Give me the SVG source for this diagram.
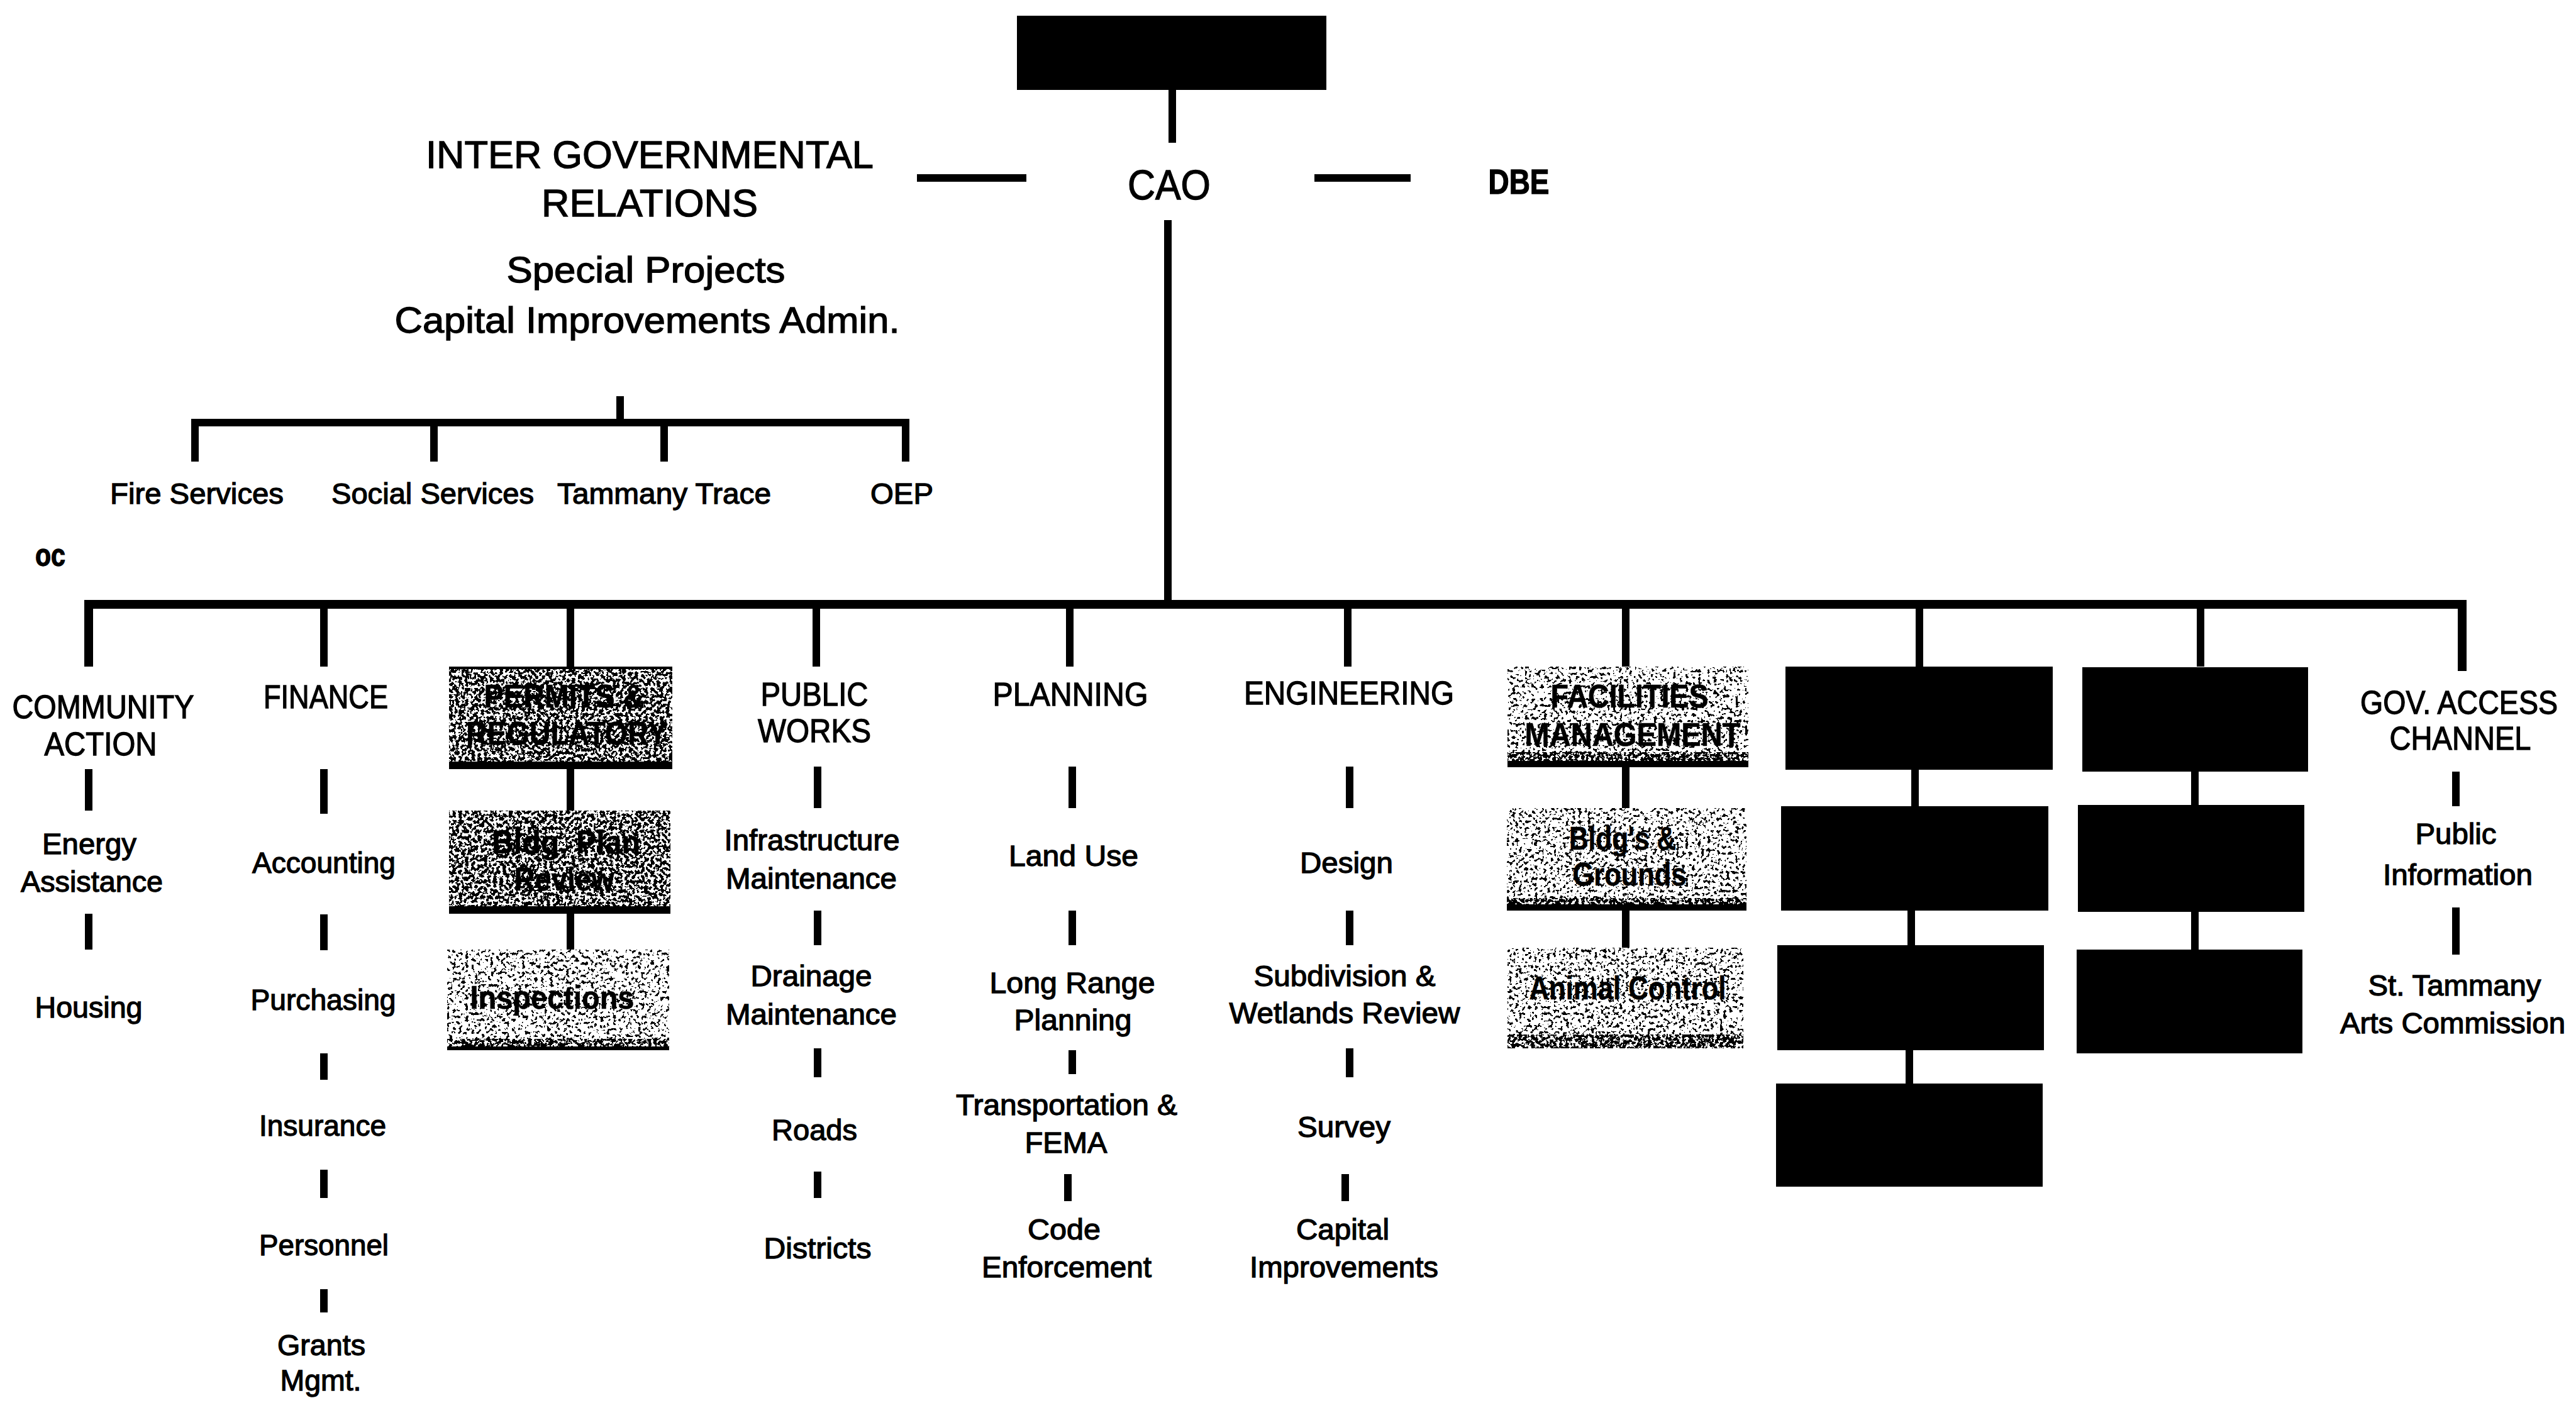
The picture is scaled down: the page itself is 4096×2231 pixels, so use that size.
<svg xmlns="http://www.w3.org/2000/svg" width="4096" height="2231" viewBox="0 0 4096 2231">
<defs>
<style>
.t{font-family:"Liberation Sans",Arial,sans-serif;fill:#000;text-anchor:middle;stroke:#000;stroke-width:1.3}
.h{font-size:52px}
.s{font-size:47px}
.b{font-size:52px;font-weight:bold;stroke-width:0.6}
.ln{stroke:#000;fill:none;stroke-width:12;stroke-linecap:butt}
.bar{stroke:#000;fill:none;stroke-width:14}
.blk{fill:#000}
</style>
<filter id="spk1" x="0" y="0" width="1" height="1">
<feTurbulence type="fractalNoise" baseFrequency="0.2" numOctaves="2" seed="5" result="n"/>
<feColorMatrix in="n" type="matrix" values="0 0 0 0 0  0 0 0 0 0  0 0 0 0 0  1 0 0 0 0" result="a"/>
<feComponentTransfer in="a" result="th"><feFuncA type="discrete" tableValues="0 0 0 0 0 0 0 0 0 0 1 1 1 1 1 1 1 1 1 1"/></feComponentTransfer>
<feComposite in="th" in2="SourceAlpha" operator="in"/>
</filter>
<filter id="spk2" x="0" y="0" width="1" height="1">
<feTurbulence type="fractalNoise" baseFrequency="0.2" numOctaves="2" seed="11" result="n"/>
<feColorMatrix in="n" type="matrix" values="0 0 0 0 0  0 0 0 0 0  0 0 0 0 0  1 0 0 0 0" result="a"/>
<feComponentTransfer in="a" result="th"><feFuncA type="discrete" tableValues="0 0 0 0 0 0 0 0 0 0 0 0 1 1 1 1 1 1 1 1"/></feComponentTransfer>
<feComposite in="th" in2="SourceAlpha" operator="in"/>
</filter>
</defs>
<rect width="4096" height="2231" fill="#fff"/>

<g id="connectors">
<path class="ln" d="M1864 143V227"/>
<path class="ln" d="M1458 283H1632M2090 283H2243" stroke-width="11"/>
<path class="ln" d="M1857 350V961"/>
<path class="bar" d="M141 1060V961H3915V1067"/>
<path class="ln" d="M515 961V1060M907 961V1060M1298 961V1060M1701 961V1060M2143 961V1060M2585 961V1060M3052 961V1060M3499 961V1060"/>
<path class="ln" d="M986 630V672M310 734V672H1440V734M690 672V734M1056 672V734" stroke-width="11"/>
<path class="ln" d="M141 1223V1289M141 1453V1510"/>
<path class="ln" d="M515 1223V1294M515 1454V1511M515 1675V1717M515 1860V1905M515 2050V2087"/>
<path class="ln" d="M907 1223V1289M907 1453V1510"/>
<path class="ln" d="M1300 1219V1285M1300 1448V1503M1300 1667V1713M1300 1863V1905"/>
<path class="ln" d="M1705 1219V1285M1705 1448V1503M1705 1670V1708M1698 1867V1910"/>
<path class="ln" d="M2146 1219V1285M2146 1448V1503M2146 1667V1713M2139 1867V1910"/>
<path class="ln" d="M2585 1220V1285M2585 1448V1507"/>
<path class="ln" d="M3045 1224V1282M3039 1448V1503M3036 1670V1723"/>
<path class="ln" d="M3490 1227V1280M3490 1450V1510"/>
<path class="ln" d="M3905 1227V1282M3905 1443V1518"/>
</g>

<g id="top-box"><rect class="blk" x="1617" y="25" width="492" height="118"/></g>
<g id="cao"><text class="t" x="1859" y="317" font-size="67" textLength="132" lengthAdjust="spacingAndGlyphs">CAO</text></g>
<g id="dbe"><text class="t" x="2415" y="308" font-size="55" font-weight="bold" stroke-width="0.6" textLength="97" lengthAdjust="spacingAndGlyphs">DBE</text></g>
<g id="intergov">
<text class="t" x="1033" y="267" font-size="62" textLength="712" lengthAdjust="spacingAndGlyphs">INTER GOVERNMENTAL</text>
<text class="t" x="1033" y="344" font-size="62" textLength="344" lengthAdjust="spacingAndGlyphs">RELATIONS</text>
<text class="t" x="1027" y="449" font-size="58" textLength="443" lengthAdjust="spacingAndGlyphs">Special Projects</text>
<text class="t" x="1029" y="529" font-size="58" textLength="803" lengthAdjust="spacingAndGlyphs">Capital Improvements Admin.</text>
</g>
<g id="fire-services"><text class="t s" x="313" y="801" textLength="276" lengthAdjust="spacingAndGlyphs">Fire Services</text></g>
<g id="social-services"><text class="t s" x="688" y="801" textLength="322" lengthAdjust="spacingAndGlyphs">Social Services</text></g>
<g id="tammany-trace"><text class="t s" x="1056" y="801" textLength="340" lengthAdjust="spacingAndGlyphs">Tammany Trace</text></g>
<g id="oep"><text class="t s" x="1434" y="801" textLength="100" lengthAdjust="spacingAndGlyphs">OEP</text></g>
<g id="cc"><text class="t" x="80" y="900" font-size="50" font-weight="bold" stroke-width="0.6" textLength="48" lengthAdjust="spacingAndGlyphs">oc</text></g>

<g id="community-action">
<text class="t h" x="164" y="1142" textLength="289" lengthAdjust="spacingAndGlyphs">COMMUNITY</text>
<text class="t h" x="160" y="1201" textLength="179" lengthAdjust="spacingAndGlyphs">ACTION</text>
<text class="t s" x="142" y="1358" textLength="150" lengthAdjust="spacingAndGlyphs">Energy</text>
<text class="t s" x="146" y="1418" textLength="226" lengthAdjust="spacingAndGlyphs">Assistance</text>
<text class="t s" x="141" y="1618" textLength="171" lengthAdjust="spacingAndGlyphs">Housing</text>
</g>

<g id="finance">
<text class="t h" x="518" y="1126" textLength="198" lengthAdjust="spacingAndGlyphs">FINANCE</text>
<text class="t s" x="515" y="1388" textLength="228" lengthAdjust="spacingAndGlyphs">Accounting</text>
<text class="t s" x="514" y="1606" textLength="231" lengthAdjust="spacingAndGlyphs">Purchasing</text>
<text class="t s" x="513" y="1806" textLength="202" lengthAdjust="spacingAndGlyphs">Insurance</text>
<text class="t s" x="515" y="1996" textLength="206" lengthAdjust="spacingAndGlyphs">Personnel</text>
<text class="t s" x="511" y="2155" textLength="140" lengthAdjust="spacingAndGlyphs">Grants</text>
<text class="t s" x="510" y="2211" textLength="129" lengthAdjust="spacingAndGlyphs">Mgmt.</text>
</g>

<g id="permits">
<rect x="714" y="1060" width="355" height="163" fill="#000" filter="url(#spk1)"/>
<rect x="714" y="1211" width="355" height="12" fill="#000"/>
<rect x="714" y="1060" width="355" height="4" fill="#000"/>
<text class="t b" x="897" y="1125" textLength="255" lengthAdjust="spacingAndGlyphs">PERMITS &amp;</text>
<text class="t b" x="901" y="1184" textLength="320" lengthAdjust="spacingAndGlyphs">REGULATORY</text>
</g>
<g id="bldg-plan-review">
<rect x="714" y="1289" width="352" height="164" fill="#000" filter="url(#spk1)"/>
<rect x="714" y="1441" width="352" height="12" fill="#000"/>
<text class="t b" x="900" y="1357" textLength="236" lengthAdjust="spacingAndGlyphs">Bldg. Plan</text>
<text class="t b" x="897" y="1416" textLength="159" lengthAdjust="spacingAndGlyphs">Review</text>
</g>
<g id="inspections">
<rect x="711" y="1510" width="353" height="160" fill="#000" filter="url(#spk2)"/>
<rect x="711" y="1652" width="353" height="18" fill="#000" filter="url(#spk1)"/>
<rect x="711" y="1664" width="353" height="6" fill="#000"/>
<text class="t b" x="878" y="1604" textLength="261" lengthAdjust="spacingAndGlyphs">Inspections</text>
</g>

<g id="public-works">
<text class="t h" x="1295" y="1122" textLength="171" lengthAdjust="spacingAndGlyphs">PUBLIC</text>
<text class="t h" x="1295" y="1180" textLength="180" lengthAdjust="spacingAndGlyphs">WORKS</text>
<text class="t s" x="1291" y="1352" textLength="279" lengthAdjust="spacingAndGlyphs">Infrastructure</text>
<text class="t s" x="1290" y="1413" textLength="272" lengthAdjust="spacingAndGlyphs">Maintenance</text>
<text class="t s" x="1290" y="1568" textLength="193" lengthAdjust="spacingAndGlyphs">Drainage</text>
<text class="t s" x="1290" y="1629" textLength="272" lengthAdjust="spacingAndGlyphs">Maintenance</text>
<text class="t s" x="1295" y="1813" textLength="136" lengthAdjust="spacingAndGlyphs">Roads</text>
<text class="t s" x="1300" y="2001" textLength="171" lengthAdjust="spacingAndGlyphs">Districts</text>
</g>

<g id="planning">
<text class="t h" x="1702" y="1122" textLength="247" lengthAdjust="spacingAndGlyphs">PLANNING</text>
<text class="t s" x="1707" y="1377" textLength="206" lengthAdjust="spacingAndGlyphs">Land Use</text>
<text class="t s" x="1705" y="1579" textLength="263" lengthAdjust="spacingAndGlyphs">Long Range</text>
<text class="t s" x="1706" y="1638" textLength="187" lengthAdjust="spacingAndGlyphs">Planning</text>
<text class="t s" x="1696" y="1773" textLength="352" lengthAdjust="spacingAndGlyphs">Transportation &amp;</text>
<text class="t s" x="1695" y="1833" textLength="131" lengthAdjust="spacingAndGlyphs">FEMA</text>
<text class="t s" x="1692" y="1971" textLength="116" lengthAdjust="spacingAndGlyphs">Code</text>
<text class="t s" x="1696" y="2031" textLength="270" lengthAdjust="spacingAndGlyphs">Enforcement</text>
</g>

<g id="engineering">
<text class="t h" x="2145" y="1120" textLength="334" lengthAdjust="spacingAndGlyphs">ENGINEERING</text>
<text class="t s" x="2141" y="1388" textLength="148" lengthAdjust="spacingAndGlyphs">Design</text>
<text class="t s" x="2138" y="1568" textLength="289" lengthAdjust="spacingAndGlyphs">Subdivision &amp;</text>
<text class="t s" x="2138" y="1627" textLength="367" lengthAdjust="spacingAndGlyphs">Wetlands Review</text>
<text class="t s" x="2137" y="1808" textLength="148" lengthAdjust="spacingAndGlyphs">Survey</text>
<text class="t s" x="2135" y="1971" textLength="148" lengthAdjust="spacingAndGlyphs">Capital</text>
<text class="t s" x="2137" y="2031" textLength="300" lengthAdjust="spacingAndGlyphs">Improvements</text>
</g>

<g id="facilities">
<rect x="2397" y="1060" width="383" height="160" fill="#000" filter="url(#spk2)"/>
<rect x="2397" y="1196" width="383" height="24" fill="#000" filter="url(#spk1)"/>
<rect x="2397" y="1210" width="383" height="10" fill="#000"/>
<text class="t b" x="2591" y="1125" textLength="251" lengthAdjust="spacingAndGlyphs">FACILITIES</text>
<text class="t b" x="2596" y="1186" textLength="343" lengthAdjust="spacingAndGlyphs">MANAGEMENT</text>
</g>
<g id="bldgs-grounds">
<rect x="2396" y="1285" width="381" height="163" fill="#000" filter="url(#spk2)"/>
<rect x="2396" y="1428" width="381" height="20" fill="#000" filter="url(#spk1)"/>
<rect x="2396" y="1438" width="381" height="10" fill="#000"/>
<text class="t b" x="2580" y="1351" textLength="170" lengthAdjust="spacingAndGlyphs">Bldg's &amp;</text>
<text class="t b" x="2591" y="1408" textLength="181" lengthAdjust="spacingAndGlyphs">Grounds</text>
</g>
<g id="animal-control">
<rect x="2397" y="1507" width="375" height="160" fill="#000" filter="url(#spk2)"/>
<rect x="2397" y="1645" width="375" height="22" fill="#000" filter="url(#spk1)"/>
<text class="t b" x="2588" y="1589" textLength="313" lengthAdjust="spacingAndGlyphs">Animal Control</text>
</g>

<g id="box-8-1"><rect class="blk" x="2839" y="1060" width="425" height="164"/></g>
<g id="box-8-2"><rect class="blk" x="2832" y="1282" width="425" height="166"/></g>
<g id="box-8-3"><rect class="blk" x="2826" y="1503" width="424" height="167"/></g>
<g id="box-8-4"><rect class="blk" x="2824" y="1723" width="424" height="164"/></g>
<g id="box-9-1"><rect class="blk" x="3311" y="1061" width="359" height="166"/></g>
<g id="box-9-2"><rect class="blk" x="3304" y="1280" width="360" height="170"/></g>
<g id="box-9-3"><rect class="blk" x="3302" y="1510" width="359" height="165"/></g>

<g id="gov-access">
<text class="t h" x="3910" y="1135" textLength="314" lengthAdjust="spacingAndGlyphs">GOV. ACCESS</text>
<text class="t h" x="3912" y="1192" textLength="225" lengthAdjust="spacingAndGlyphs">CHANNEL</text>
<text class="t s" x="3905" y="1342" textLength="129" lengthAdjust="spacingAndGlyphs">Public</text>
<text class="t s" x="3908" y="1407" textLength="238" lengthAdjust="spacingAndGlyphs">Information</text>
<text class="t s" x="3903" y="1583" textLength="275" lengthAdjust="spacingAndGlyphs">St. Tammany</text>
<text class="t s" x="3900" y="1643" textLength="358" lengthAdjust="spacingAndGlyphs">Arts Commission</text>
</g>
</svg>
